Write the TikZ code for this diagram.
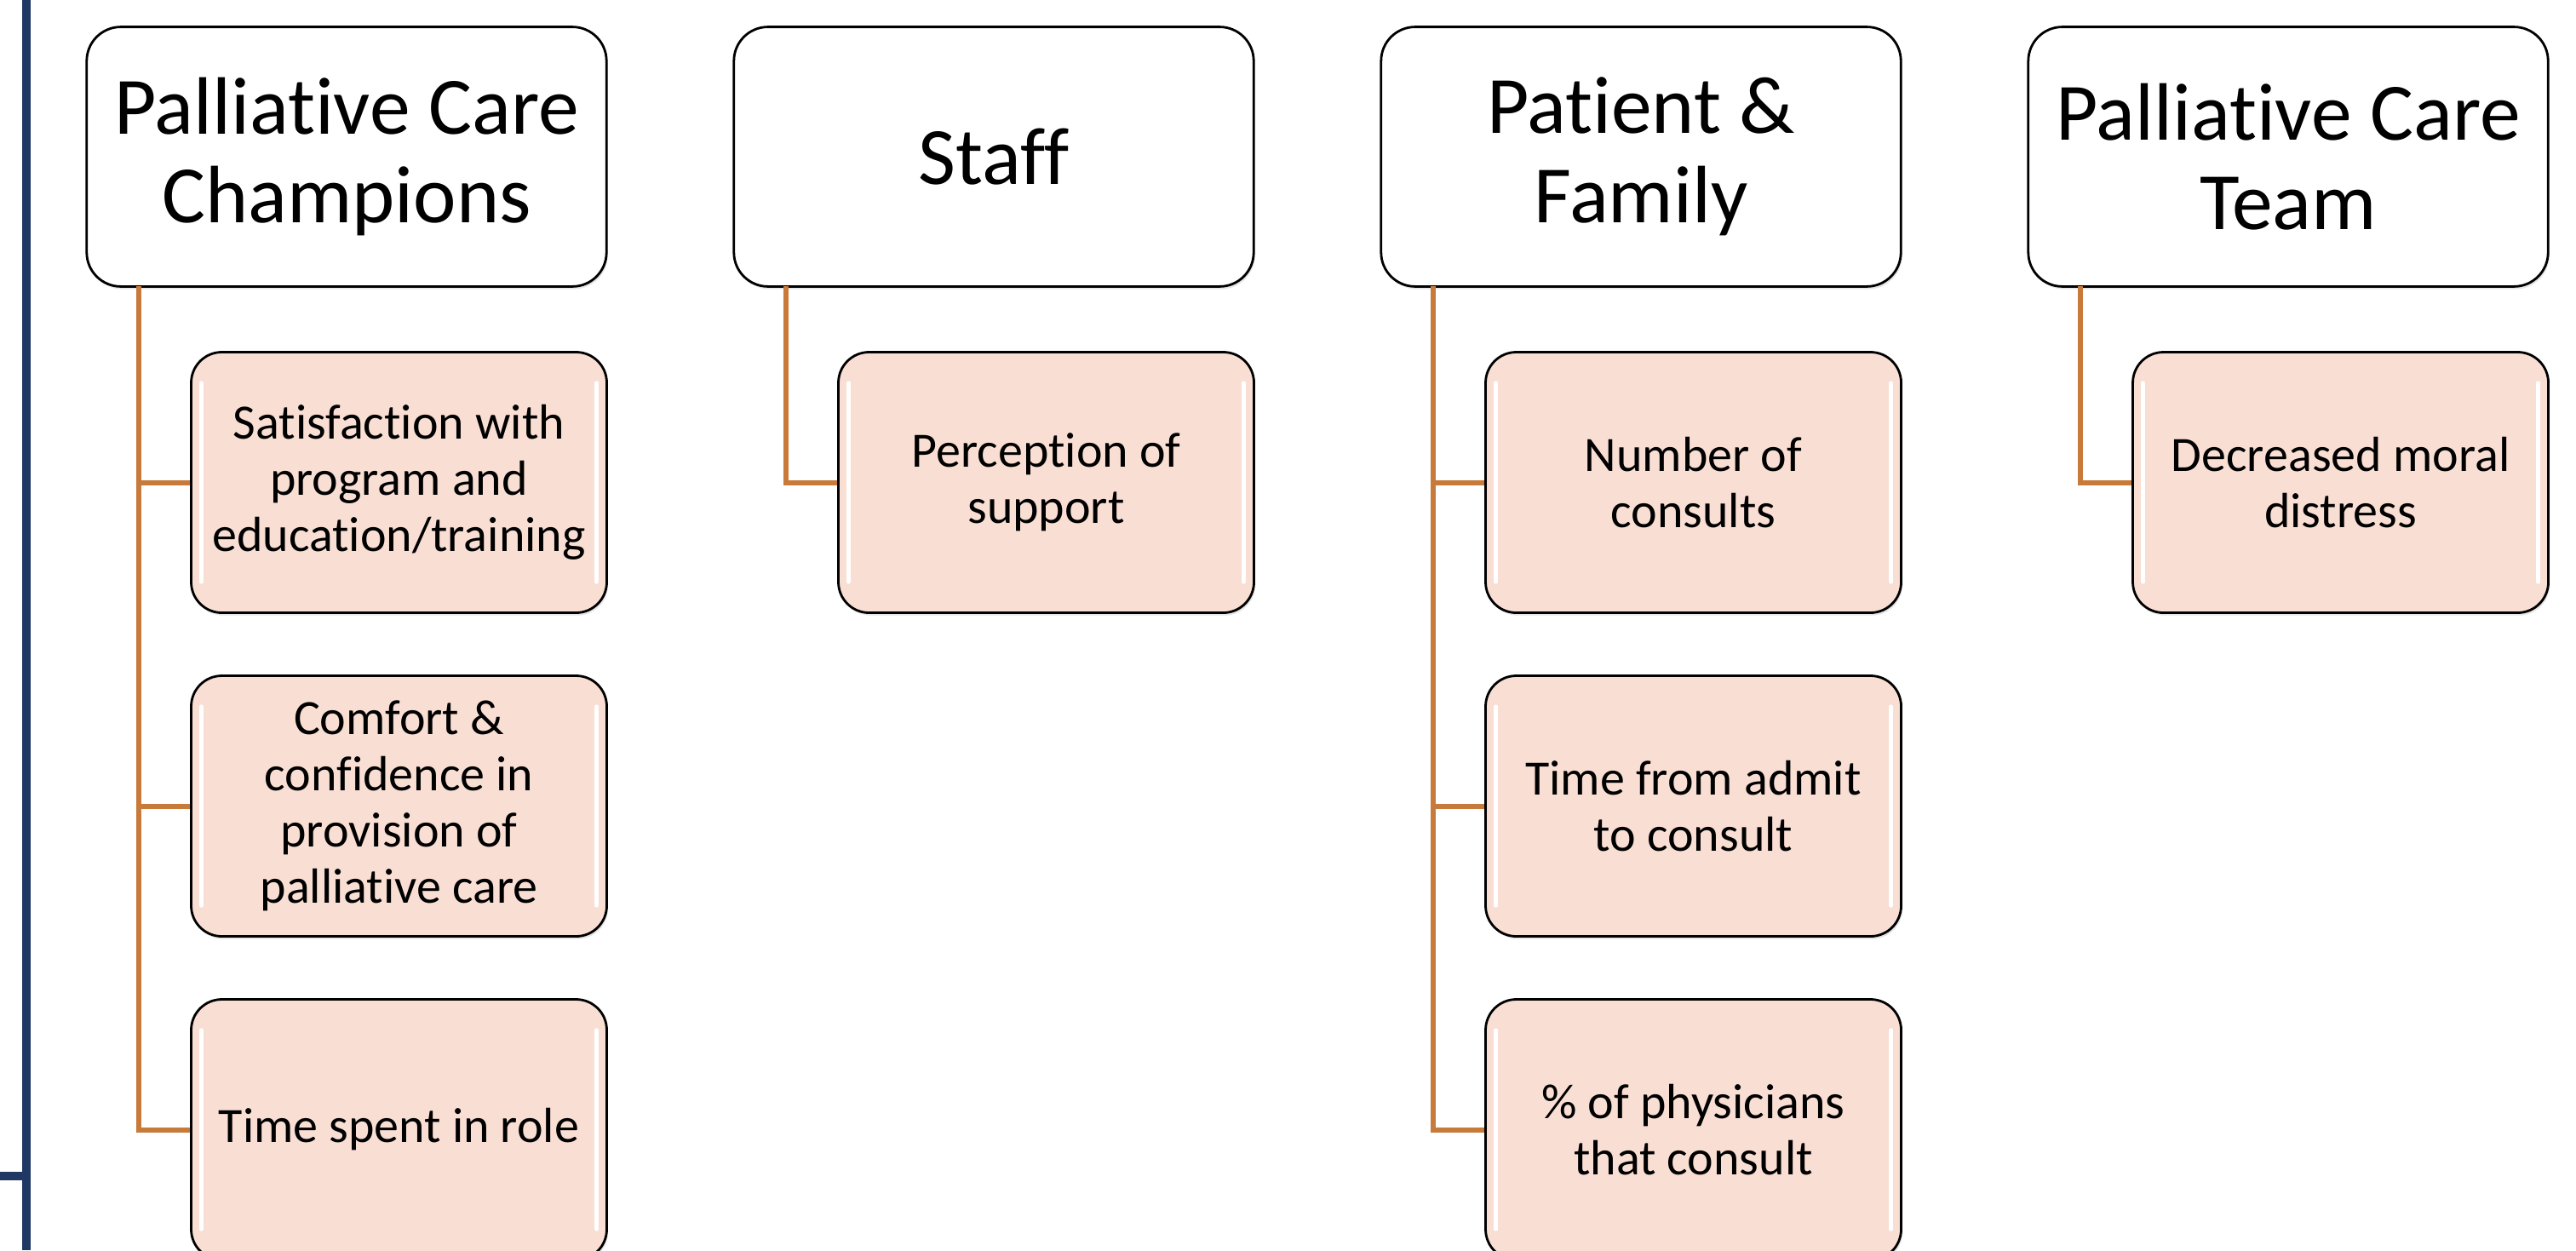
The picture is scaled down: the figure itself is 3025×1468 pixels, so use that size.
\documentclass[tikz,border=0pt]{standalone}
\usepackage{fontspec}
\setmainfont{Carlito}[Ligatures=NoCommon]
\usetikzlibrary{shadows}
\definecolor{peach}{HTML}{F9DED3}
\definecolor{linkorange}{HTML}{C87A3A}
\definecolor{navyline}{HTML}{1F3864}
\tikzset{
  headbox/.style={draw, rounded corners=10pt, fill=white, line width=0.7pt,
    minimum width=152.6pt, minimum height=76.2pt, inner sep=0pt, align=center,
    font=\fontsize{23.9}{26.2}\selectfont,
    drop shadow={opacity=0.2, shadow xshift=0.4pt, shadow yshift=-0.8pt}},
  itembox/.style={draw, rounded corners=9pt, fill=peach, line width=0.7pt,
    minimum width=122pt, minimum height=76.5pt, inner sep=0pt, align=center,
    font=\fontsize{14.5}{16.5}\selectfont,
    drop shadow={opacity=0.2, shadow xshift=0.4pt, shadow yshift=-0.8pt},
    path picture={
      \draw[white, line width=1.1pt, line cap=round]
        ([xshift=3pt,yshift=-9pt]path picture bounding box.north west) --
        ([xshift=3pt,yshift=9pt]path picture bounding box.south west);
      \draw[white, line width=1.1pt, line cap=round]
        ([xshift=-3pt,yshift=-9pt]path picture bounding box.north east) --
        ([xshift=-3pt,yshift=9pt]path picture bounding box.south east);
    }},
  link/.style={draw=linkorange, line width=1.5pt},
}
\begin{document}
\begin{tikzpicture}[x=0.25pt, y=-0.25pt]
\useasboundingbox[fill=white] (0,0) rectangle (3025,1468);
% side rule
\draw[navyline, line width=2.4pt] (31,0) -- (31,1468);
\draw[navyline, line width=2.4pt] (0,1381) -- (31,1381);
% headings
\node[headbox] (hd1) at (407,184){Palliative Care\\Champions};
\node[headbox] (hd2) at (1167,184){Staff};
\node[headbox] (hd3) at (1927,184){Patient \&\\Family};
\node[headbox] (hd4) at (2687,184){Palliative Care\\Team};
% measures
\node[itembox] (it11) at (468.5,566.5){Satisfaction with\\program and\\education/training};
\node[itembox] (it12) at (468.5,946.5){Comfort \&\\confidence in\\provision of\\palliative care};
\node[itembox] (it13) at (468.5,1326.5){Time spent in role};
\node[itembox] (it21) at (1228.5,566.5){Perception of\\support};
\node[itembox] (it31) at (1988.5,566.5){Number of\\consults};
\node[itembox] (it32) at (1988.5,946.5){Time from admit\\to consult};
\node[itembox] (it33) at (1988.5,1326.5){\% of physicians\\that consult};
\node[itembox] (it41) at (2748.5,566.5){Decreased moral\\distress};
% trunks
\coordinate (tr1) at (163,336);
\coordinate (tr2) at (923,336);
\coordinate (tr3) at (1683,336);
\coordinate (tr4) at (2443,336);
\draw[link](tr1) |- (it11.west);
\draw[link](tr1) |- (it12.west);
\draw[link](tr1) |- (it13.west);
\draw[link](tr2) |- (it21.west);
\draw[link](tr3) |- (it31.west);
\draw[link](tr3) |- (it32.west);
\draw[link](tr3) |- (it33.west);
\draw[link](tr4) |- (it41.west);
\end{tikzpicture}
\end{document}
